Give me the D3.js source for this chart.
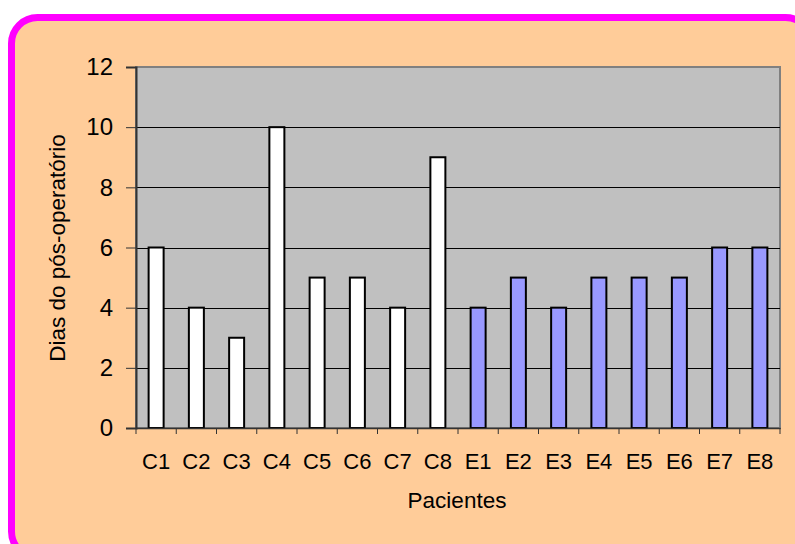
<!DOCTYPE html>
<html>
<head>
<meta charset="utf-8">
<script src="https://cdn.jsdelivr.net/npm/d3@7"></script>
<style>
  body { margin: 0; background: #fff; }
  svg { display: block; font-family: "Liberation Sans", Arial, sans-serif; }
</style>
</head>
<body>
<script>
// pacientes e dias do pós-operatório
const categories = ["C1","C2","C3","C4","C5","C6","C7","C8","E1","E2","E3","E4","E5","E6","E7","E8"];
const dias = [6,4,3,10,5,5,4,9,4,5,4,5,5,5,6,6];
const yTicks = [0,2,4,6,8,10,12];

const width = 795, height = 544;
const plot = {left: 136, top: 67, right: 780, bottom: 428};

const svg = d3.select("body").append("svg")
    .attr("width", width)
    .attr("height", height);

// fundo com borda magenta
svg.append("rect")
    .attr("x", 11.5).attr("y", 17.5)
    .attr("width", 800).attr("height", 540)
    .attr("rx", 26)
    .attr("fill", "#FFCC99")
    .attr("stroke", "#FF00FF")
    .attr("stroke-width", 7);

const x = d3.scaleBand().domain(categories).range([plot.left, plot.right]);
const y = d3.scaleLinear().domain([0, 12]).range([plot.bottom, plot.top]);

// área do gráfico
svg.append("rect")
    .attr("x", plot.left).attr("y", plot.top)
    .attr("width", plot.right - plot.left).attr("height", plot.bottom - plot.top)
    .attr("fill", "#C0C0C0")
    .attr("stroke", "#808080")
    .attr("stroke-width", 2);

// linhas de grade
svg.append("g")
    .selectAll("line")
    .data(yTicks.filter(d => d > 0 && d < 12))
    .join("line")
    .attr("x1", plot.left).attr("x2", plot.right)
    .attr("y1", d => Math.round(y(d)) + 0.5).attr("y2", d => Math.round(y(d)) + 0.5)
    .attr("stroke", "#000").attr("stroke-width", 1);

// barras
svg.append("g")
    .selectAll("rect")
    .data(categories)
    .join("rect")
    .attr("x", d => x(d) + x.bandwidth() / 2 - 7.5)
    .attr("y", (d, i) => y(dias[i]))
    .attr("width", 15)
    .attr("height", (d, i) => y(0) - y(dias[i]))
    .attr("fill", d => d[0] === "C" ? "#FFFFFF" : "#9999FF")
    .attr("stroke", "#000")
    .attr("stroke-width", 2);

// eixo y
const yAxis = svg.append("g")
    .attr("transform", `translate(${plot.left},0)`)
    .call(d3.axisLeft(y).tickValues(yTicks).tickSize(10).tickPadding(13));
yAxis.select(".domain").attr("stroke", "#333").attr("stroke-width", 2);
yAxis.selectAll(".tick line").attr("stroke", "#333");
yAxis.selectAll("text").attr("font-size", 24).attr("fill", "#000")
    .attr("font-family", "Liberation Sans, Arial, sans-serif");

// eixo x
const xAxis = svg.append("g")
    .attr("transform", `translate(0,${plot.bottom})`)
    .call(d3.axisBottom(x).tickSize(0).tickPadding(25));
xAxis.select(".domain").attr("stroke", "#333").attr("stroke-width", 1.5);
xAxis.selectAll("text").attr("font-size", 22).attr("fill", "#000")
    .attr("font-family", "Liberation Sans, Arial, sans-serif");
// marcas entre categorias
xAxis.selectAll(".sep")
    .data(categories.map(d => x(d)).concat([plot.right]))
    .join("line")
    .attr("class", "sep")
    .attr("x1", d => d).attr("x2", d => d)
    .attr("y1", 0).attr("y2", 6)
    .attr("stroke", "#333");

// títulos dos eixos
svg.append("text")
    .attr("x", 457).attr("y", 508)
    .attr("text-anchor", "middle")
    .attr("font-size", 22.5)
    .text("Pacientes");

svg.append("text")
    .attr("transform", "translate(65,248) rotate(-90)")
    .attr("text-anchor", "middle")
    .attr("font-size", 22.5)
    .text("Dias do pós-operatório");
</script>
</body>
</html>
